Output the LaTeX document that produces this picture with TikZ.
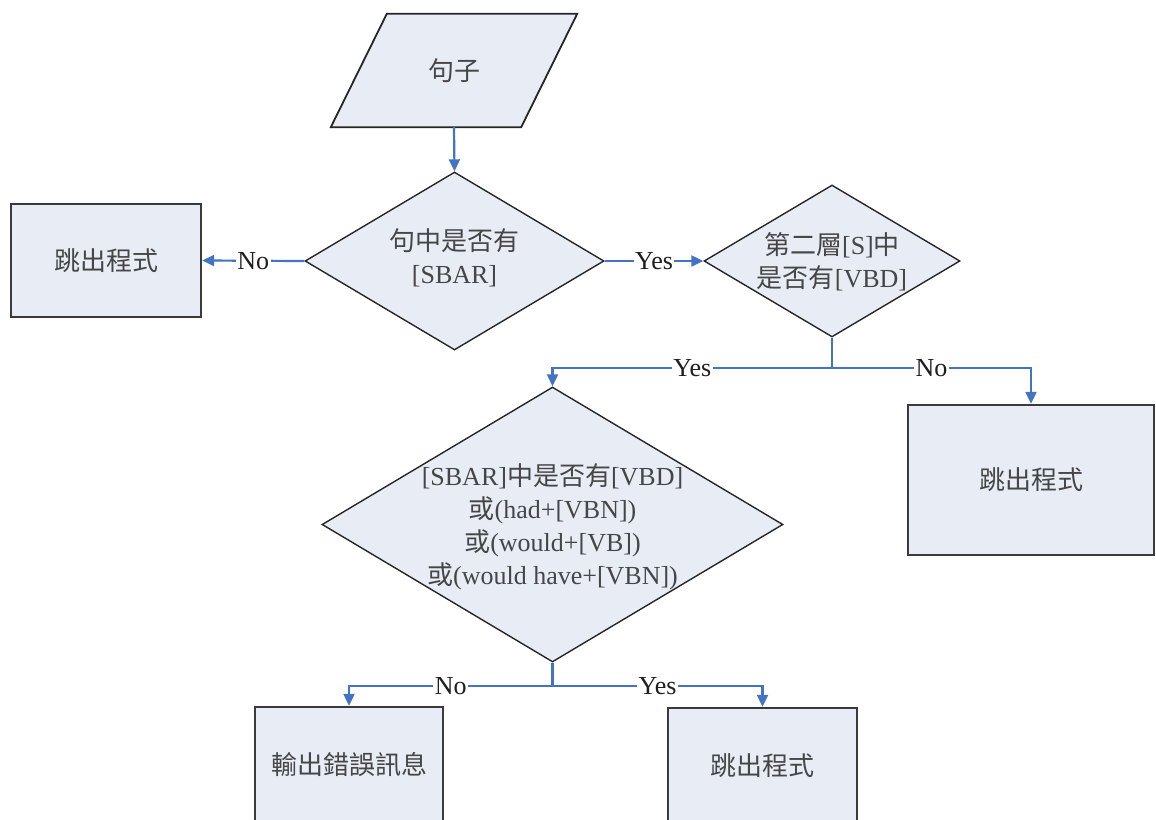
\documentclass[tikz,border=0pt]{standalone}
\usepackage{fontspec}
\setmainfont{Liberation Serif}
\newfontfamily\cjfont{Noto Sans CJK TC}
\usetikzlibrary{shapes.geometric,arrows.meta,calc}
\definecolor{fillc}{RGB}{232,236,245}
\definecolor{flow}{RGB}{68,114,196}
\definecolor{edgec}{RGB}{58,58,58}
\definecolor{txtc}{RGB}{70,70,70}
\newcommand\zh[1]{{\cjfont #1}}

\begin{document}
\begin{tikzpicture}[x=1pt,y=-1pt,
  every node/.style={font=\fontsize{26}{33}\selectfont, text=txtc, align=center, inner sep=0pt},
  procbox/.style={rectangle, draw=edgec, line width=2.4pt, fill=fillc},
  decision/.style={diamond, draw=black!85, line width=1.4pt, fill=fillc},
  flowline/.style={draw=flow, line width=2.2pt},
  flowarrow/.style={flowline, -{Triangle[length=12pt,width=11pt]}},
  lbl/.style={fill=white, text=black!88, font=\fontsize{26}{30}\selectfont, inner xsep=1.5pt, inner ysep=0pt}
]
\useasboundingbox (0,0) rectangle (1156,819);

% input sentence (parallelogram)
\node (in) [rectangle, minimum width=246pt, minimum height=113pt] at (454,70.5) {};
\draw[draw=black!85, line width=1.8pt, fill=fillc]
  (in.south west) -- ($(in.north west)+(56,0)$) -- (in.north east)
  -- ($(in.south east)-(56,0)$) -- cycle;
\node (intext) at (in) {\zh{句子}};

% decisions
\node (d1) [decision, minimum width=299pt, minimum height=178pt] at (454.5,261) {};
\node (d1t) at ($(d1)+(0,-3)$) {\zh{句中是否有}\\{}[SBAR]};

\node (d2) [decision, minimum width=256pt, minimum height=152pt] at (832,261) {};
\node (d2t) at ($(d2)+(0,1)$) {\zh{第二層}[S]\zh{中}\\\zh{是否有}[VBD]};

\node (d3) [decision, minimum width=461pt, minimum height=275pt] at (552.5,524.5) {};
\node (d3t) at ($(d3)+(0,2)$) {[SBAR]\zh{中是否有}[VBD]\\\zh{或}(had+[VBN])\\\zh{或}(would+[VB])\\\zh{或}(would have+[VBN])};

% process boxes
\node (exitL) [procbox, minimum width=190pt, minimum height=113pt] at (106,260.5) {\zh{跳出程式}};
\node (exitR) [procbox, minimum width=246pt, minimum height=150pt] at (1031,480) {\zh{跳出程式}};
\node (err)   [procbox, minimum width=188pt, minimum height=115pt] at (349,764.5) {\zh{輸出錯誤訊息}};
\node (exit2) [procbox, minimum width=189pt, minimum height=115pt] at (762.5,765.5) {\zh{跳出程式}};

% connectors
\draw[flowarrow] (in.south) -- (d1.north);
\draw[flowarrow] (d1.west) -- node[lbl]{No} (exitL.east);
\draw[flowarrow] (d1.east) -- node[lbl]{Yes} (d2.west);

\coordinate (s2) at (832,368);
\draw[flowline] (d2.south) -- (s2);
\draw[flowarrow] (s2) -| node[lbl,pos=0.25]{Yes} (d3.north);
\draw[flowarrow] (s2) -| node[lbl,pos=0.25]{No} (exitR.north);

\coordinate (s3) at (552.5,686);
\draw[flowline] (d3.south) -- (s3);
\draw[flowarrow] (s3) -| node[lbl,pos=0.25]{No} (err.north);
\draw[flowarrow] (s3) -| node[lbl,pos=0.25]{Yes} (exit2.north);
\end{tikzpicture}
\end{document}
